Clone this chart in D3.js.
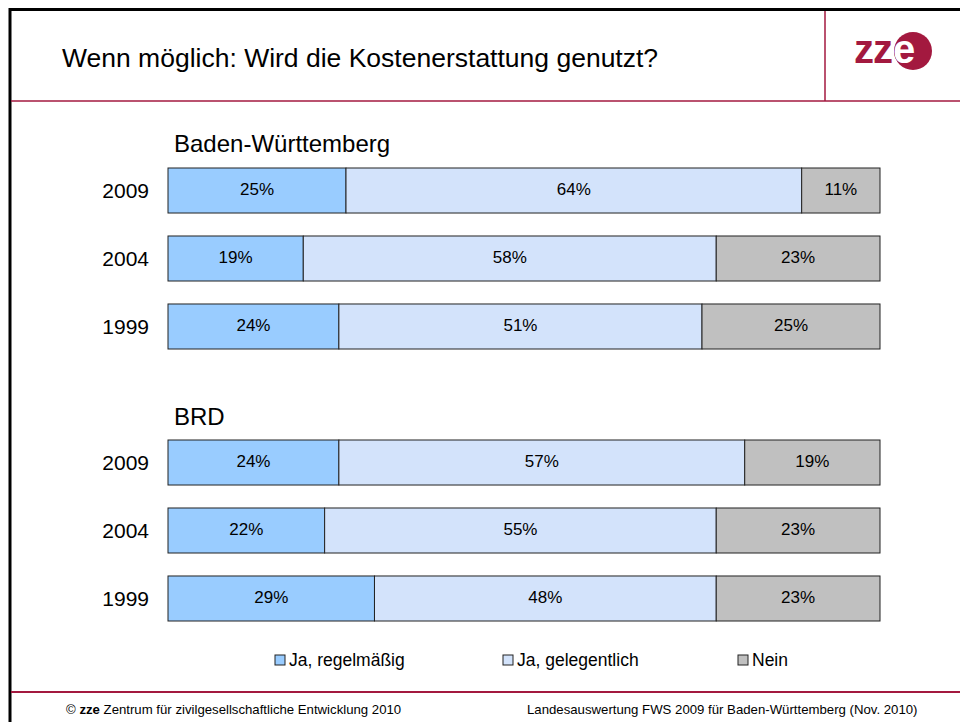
<!DOCTYPE html>
<html>
<head>
<meta charset="utf-8">
<script src="https://cdn.jsdelivr.net/npm/d3@7"></script>
<style>
  body { margin: 0; background: #fff; }
  text { font-family: "Liberation Sans", Arial, sans-serif; }
</style>
</head>
<body>
<div id="chart"></div>
<script>
// Data
const keys = ["regelmaessig", "gelegentlich", "nein"];
const legendLabels = ["Ja, regelmäßig", "Ja, gelegentlich", "Nein"];
const colors = ["#99ccff", "#d3e3fb", "#c0c0c0"];

const years = ["2009", "2004", "1999"];
const bwRegelmaessig = [25, 19, 24];
const bwGelegentlich = [64, 58, 51];
const bwNein = [11, 23, 25];
const brdRegelmaessig = [24, 22, 29];
const brdGelegentlich = [57, 55, 48];
const brdNein = [19, 23, 23];

const crimson = "#a3193f";

// Build rows for each group
function rows(a, b, c) {
    return years.map((y, i) => ({ year: y, regelmaessig: a[i], gelegentlich: b[i], nein: c[i] }));
}
const groups = [
    { name: "Baden-Württemberg", data: rows(bwRegelmaessig, bwGelegentlich, bwNein), top: 168, labelY: 152 },
    { name: "BRD", data: rows(brdRegelmaessig, brdGelegentlich, brdNein), top: 440, labelY: 425 }
];

const W = 960, H = 722;
const svg = d3.select("#chart").append("svg")
    .attr("width", W)
    .attr("height", H);

// Frame and header / footer lines
svg.append("rect")
    .attr("x", 10).attr("y", 9.5)
    .attr("width", W).attr("height", H)
    .attr("fill", "none").attr("stroke", "#000").attr("stroke-width", 3);
svg.append("line").attr("x1", 11).attr("x2", W).attr("y1", 101).attr("y2", 101)
    .attr("stroke", crimson).attr("stroke-width", 1.5);
svg.append("line").attr("x1", 825).attr("x2", 825).attr("y1", 11).attr("y2", 101)
    .attr("stroke", crimson).attr("stroke-width", 1.5);
svg.append("line").attr("x1", 11).attr("x2", W).attr("y1", 692).attr("y2", 692)
    .attr("stroke", crimson).attr("stroke-width", 2);

// Title
svg.append("text")
    .attr("x", 62).attr("y", 67)
    .style("font-size", "26.5px")
    .attr("fill", "#000")
    .text("Wenn möglich: Wird die Kostenerstattung genutzt?");

// Logo
const logo = svg.append("g");
logo.append("text")
    .attr("x", 854).attr("y", 63)
    .style("font-size", "40px")
    .style("font-weight", "bold")
    .attr("fill", crimson)
    .attr("letter-spacing", "-1px")
    .text("zz");
svg.append("clipPath").attr("id", "logoClip")
    .append("circle").attr("cx", 913).attr("cy", 51).attr("r", 19);
logo.append("circle").attr("cx", 913).attr("cy", 51).attr("r", 19).attr("fill", crimson);
logo.append("text")
    .attr("x", 893).attr("y", 63)
    .style("font-size", "40px")
    .style("font-weight", "bold")
    .attr("fill", crimson)
    .text("e");
logo.append("text")
    .attr("x", 893).attr("y", 63)
    .style("font-size", "40px")
    .style("font-weight", "bold")
    .attr("fill", "#fff")
    .attr("clip-path", "url(#logoClip)")
    .text("e");

// Scales
const x = d3.scaleLinear().domain([0, 100]).range([168, 880]);
const stack = d3.stack().keys(keys);
const color = d3.scaleOrdinal().domain(keys).range(colors);

groups.forEach(g => {
    const y = d3.scaleBand()
        .domain(years)
        .range([g.top, g.top + 181])
        .paddingInner(0.338)
        .paddingOuter(0);

    const grp = svg.append("g");

    grp.append("text")
        .attr("x", 174).attr("y", g.labelY)
        .style("font-size", "24px")
        .text(g.name);

    // Year labels
    grp.selectAll(".year")
        .data(years)
        .enter()
        .append("text")
        .attr("class", "year")
        .attr("x", 149)
        .attr("y", d => y(d) + y.bandwidth() / 2)
        .attr("dy", "0.35em")
        .attr("text-anchor", "end")
        .style("font-size", "21px")
        .text(d => d);

    const series = stack(g.data);

    const layer = grp.selectAll(".layer")
        .data(series)
        .enter()
        .append("g")
        .attr("class", "layer")
        .attr("fill", d => color(d.key));

    layer.selectAll("rect")
        .data(d => d)
        .enter()
        .append("rect")
        .attr("x", d => x(d[0]))
        .attr("y", d => y(d.data.year))
        .attr("width", d => x(d[1]) - x(d[0]))
        .attr("height", y.bandwidth())
        .attr("stroke", "#222")
        .attr("stroke-width", 1);

    layer.selectAll("text")
        .data(d => d)
        .enter()
        .append("text")
        .attr("x", d => (x(d[0]) + x(d[1])) / 2)
        .attr("y", d => y(d.data.year) + y.bandwidth() / 2 - 1)
        .attr("dy", "0.35em")
        .attr("text-anchor", "middle")
        .attr("fill", "#000")
        .style("font-size", "17px")
        .text(d => (d[1] - d[0]) + "%");
});

// Legend
const legendX = [275, 503, 738];
const legend = svg.selectAll(".legend")
    .data(keys)
    .enter()
    .append("g")
    .attr("class", "legend")
    .attr("transform", (d, i) => "translate(" + legendX[i] + ",655)");
legend.append("rect")
    .attr("width", 10).attr("height", 10)
    .attr("fill", d => color(d))
    .attr("stroke", "#222");
legend.append("text")
    .attr("x", 14).attr("y", 5)
    .attr("dy", "0.35em")
    .style("font-size", "17.5px")
    .text((d, i) => legendLabels[i]);

// Footer
const foot = svg.append("text")
    .attr("x", 66).attr("y", 714)
    .style("font-size", "13.2px");
foot.append("tspan").text("© ");
foot.append("tspan").style("font-weight", "bold").text("zze");
foot.append("tspan").text(" Zentrum für zivilgesellschaftliche Entwicklung 2010");

svg.append("text")
    .attr("x", 527).attr("y", 714)
    .style("font-size", "13.2px")
    .text("Landesauswertung FWS 2009 für Baden-Württemberg (Nov. 2010)");
</script>
</body>
</html>
